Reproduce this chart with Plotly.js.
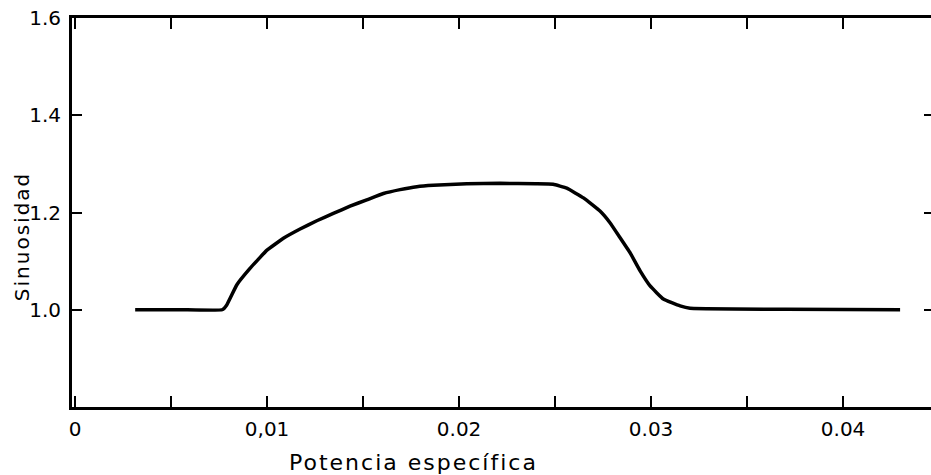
<!DOCTYPE html>
<html>
<head>
<meta charset="utf-8">
<script src="https://cdn.plot.ly/plotly-3.0.1.min.js"></script>
<style>
html,body{margin:0;padding:0;background:#fff;overflow:hidden;}
#chart{width:931px;height:475px;}
.annotation-text{letter-spacing:2px;}
</style>
</head>
<body>
<div id="chart"></div>
<script>
// Data
const potencia = [0.00313, 0.0055, 0.00766, 0.0079, 0.00842, 0.00911, 0.00998, 0.01085, 0.01172, 0.01259, 0.01345, 0.01432, 0.01519, 0.01606, 0.01693, 0.0178, 0.01866, 0.0204, 0.02214, 0.0240, 0.0249, 0.02561, 0.02648, 0.02734, 0.02786, 0.02839, 0.02891, 0.02943, 0.02995, 0.03064, 0.03151, 0.03203, 0.0370, 0.04297];
const sinuosidad = [1.000, 1.000, 1.000, 1.010, 1.051, 1.085, 1.122, 1.147, 1.166, 1.183, 1.198, 1.213, 1.226, 1.239, 1.247, 1.253, 1.256, 1.259, 1.260, 1.259, 1.258, 1.250, 1.230, 1.203, 1.179, 1.148, 1.117, 1.080, 1.049, 1.022, 1.008, 1.003, 1.001, 1.000];

const xTickVals = [0, 0.005, 0.01, 0.015, 0.02, 0.025, 0.03, 0.035, 0.04];
const xTickText = ["0", "", "0,01", "", "0.02", "", "0.03", "", "0.04"];
const yTickVals = [1.0, 1.2, 1.4, 1.6];
const yTickText = ["1.0", "1.2", "1.4", "1.6"];
const yRightTickVals = [1.0, 1.2, 1.4];

const xTitle = "Potencia específica";
const yTitle = "Sinuosidad";

const FONT = "DejaVu Sans, Liberation Sans, sans-serif";

const trace = {
  x: potencia,
  y: sinuosidad,
  type: "scatter",
  mode: "lines",
  line: {color: "#000", width: 3.5, shape: "spline", smoothing: 0.3},
  hoverinfo: "skip",
  showlegend: false
};
// invisible companion trace so the right-hand tick axis is drawn
const traceRight = {
  x: [potencia[0]],
  y: [sinuosidad[0]],
  yaxis: "y2",
  type: "scatter",
  mode: "markers",
  marker: {opacity: 0},
  hoverinfo: "skip",
  showlegend: false
};

const layout = {
  width: 931,
  height: 475,
  margin: {l: 72, r: 0, t: 18, b: 68},
  paper_bgcolor: "#fff",
  plot_bgcolor: "#fff",
  font: {family: FONT, color: "#000", size: 19},
  xaxis: {
    range: [-0.00016, 0.04458],
    showgrid: false,
    zeroline: false,
    showline: true,
    linecolor: "#000",
    linewidth: 3,
    mirror: "ticks",
    ticks: "inside",
    ticklen: 11,
    tickwidth: 2,
    tickcolor: "#000",
    tickmode: "array",
    tickvals: xTickVals,
    ticktext: xTickText,
    ticklabelstandoff: 2,
    tickfont: {family: FONT, size: 20, color: "#000"}
  },
  yaxis: {
    range: [0.8, 1.6],
    showgrid: false,
    zeroline: false,
    showline: true,
    linecolor: "#000",
    linewidth: 3,
    ticks: "inside",
    ticklen: 10,
    tickwidth: 2,
    tickcolor: "#000",
    tickmode: "array",
    tickvals: yTickVals,
    ticktext: yTickText,
    ticklabelstandoff: 4,
    tickfont: {family: FONT, size: 20, color: "#000"}
  },
  yaxis2: {
    range: [0.8, 1.6],
    overlaying: "y",
    side: "right",
    showgrid: false,
    zeroline: false,
    showline: false,
    ticks: "inside",
    ticklen: 7,
    tickwidth: 2,
    tickcolor: "#000",
    tickmode: "array",
    tickvals: yRightTickVals,
    showticklabels: false
  },
  annotations: [
    {
      text: xTitle,
      xref: "paper", yref: "paper",
      x: 0.397, y: -0.143,
      xanchor: "center", yanchor: "middle",
      showarrow: false,
      font: {family: FONT, size: 22, color: "#000"}
    },
    {
      text: yTitle,
      xref: "paper", yref: "paper",
      x: -0.058, y: 0.437,
      xanchor: "center", yanchor: "middle",
      textangle: -90,
      showarrow: false,
      font: {family: FONT, size: 20, color: "#000"}
    }
  ]
};

Plotly.newPlot("chart", [trace, traceRight], layout, {displayModeBar: false, staticPlot: true});
</script>
</body>
</html>
